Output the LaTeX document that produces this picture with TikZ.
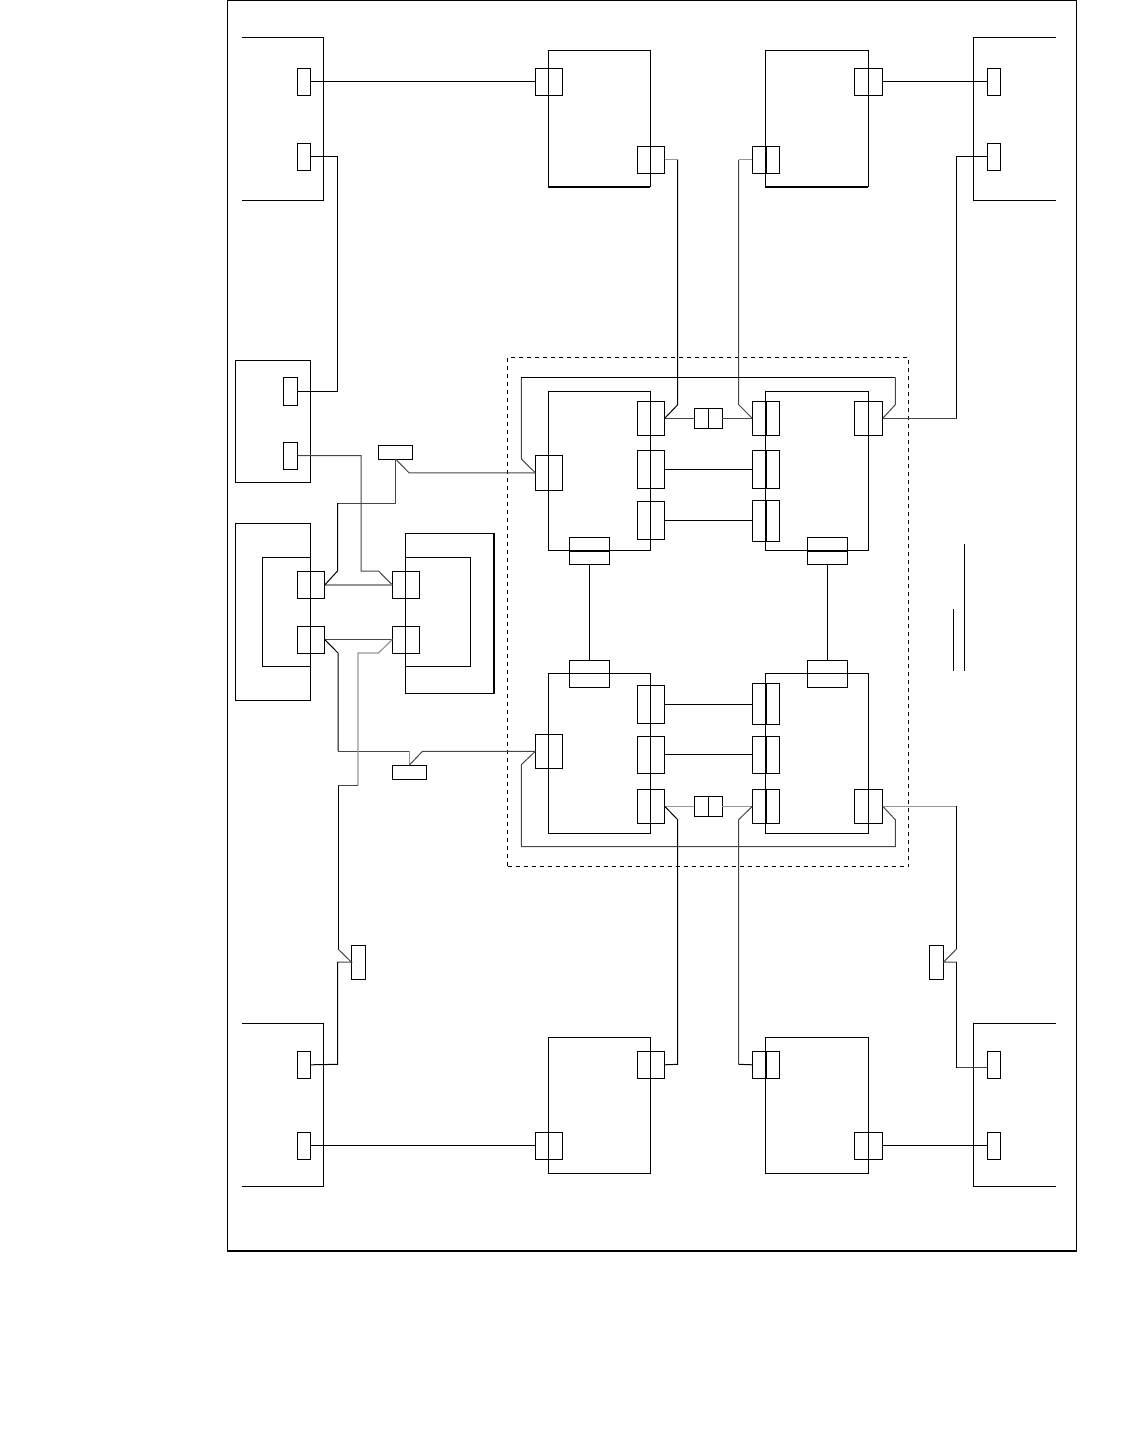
\documentclass[tikz,border=0pt]{standalone}
\usepackage{xcolor}
\usetikzlibrary{positioning}
\definecolor{WireDark}{RGB}{70, 70, 70}
\definecolor{WireLight}{RGB}{150, 150, 150}
\tikzset{
  block/.style={draw, rectangle, line width=1pt, inner sep=0pt, outer sep=0pt},
  portsq/.style={block, minimum width=27.4pt, minimum height=27pt},
  porttall/.style={block, minimum width=27.4pt, minimum height=38pt},
  portmid/.style={block, minimum width=27.4pt, minimum height=34pt},
  portslim/.style={block, minimum width=13.4pt, minimum height=27pt},
  portwide/.style={block, minimum width=40pt, minimum height=27pt},
  tagh/.style={block, minimum width=34.5pt, minimum height=14pt},
  tagv/.style={block, minimum width=14.4pt, minimum height=34pt},
  link/.style={block, minimum width=14pt, minimum height=20pt},
  wire/.style={line width=1pt, black},
  wiredark/.style={line width=1pt, WireDark},
  wirelight/.style={line width=1.2pt, WireLight},
  edgeline/.style={line width=1pt, black},
  heavyline/.style={line width=1.8pt, black}
}
\begin{document}
\begin{tikzpicture}[x=1pt, y=-1pt]
  \useasboundingbox (0,0) rectangle (1134,1442);
  % frame and dashed group
  \node[block, minimum width=849.4pt, minimum height=1250.2pt] (frame) at (652,625.6) {};
  \draw[heavyline] (frame.south west) -- (frame.south east);
  \node[block, dash pattern=on 4.5pt off 3.5pt, minimum width=401.2pt, minimum height=509.5pt] (group) at (708.1,612.2) {};

  % open racks
  \draw[edgeline] (242,37.5) -- (323.3,37.5) -- (323.3,200.3) -- (242,200.3);
  \draw[edgeline] (1055.7,37.5) -- (973.3,37.5) -- (973.3,200.3) -- (1055.7,200.3);
  \draw[edgeline] (242,1023.3) -- (323.3,1023.3) -- (323.3,1186.3) -- (242,1186.3);
  \draw[edgeline] (1055.7,1023.3) -- (973.3,1023.3) -- (973.3,1186.3) -- (1055.7,1186.3);
  \node[portslim] (rackTLa) at (304,81.8) {};
  \node[portslim] (rackTLb) at (304,156.8) {};
  \node[portslim] (rackTRa) at (994,81.8) {};
  \node[portslim] (rackTRb) at (994,156.8) {};
  \node[portslim] (rackBLa) at (304,1064.8) {};
  \node[portslim] (rackBLb) at (304,1145.8) {};
  \node[portslim] (rackBRa) at (994,1064.8) {};
  \node[portslim] (rackBRb) at (994,1145.8) {};

  % top and bottom servers
  \node[block, minimum width=102pt, minimum height=136.4pt] (srvTL) at (599.3,118.5) {};
  \node[block, minimum width=103pt, minimum height=136.4pt] (srvTR) at (816.8,118.5) {};
  \node[block, minimum width=102pt, minimum height=136pt] (srvBL) at (599.3,1105.3) {};
  \node[block, minimum width=103pt, minimum height=136pt] (srvBR) at (816.8,1105.3) {};
  \draw[heavyline] (srvTL.south west) -- (srvTL.south east);
  \draw[heavyline] (srvTR.south west) -- (srvTR.south east);
  \node[portsq] (srvTLa) at (549,81.8) {};
  \node[portsq] (srvTLb) at (651,159.8) {};
  \node[portsq] (srvTRa) at (766,159.8) {};
  \node[block, minimum width=28.4pt, minimum height=27pt] (srvTRb) at (868.5,81.8) {};
  \node[portsq] (srvBLa) at (651,1064.8) {};
  \node[portsq] (srvBLb) at (549,1145.8) {};
  \node[portsq] (srvBRa) at (766,1064.8) {};
  \node[block, minimum width=28.4pt, minimum height=27pt] (srvBRb) at (868.5,1145.8) {};
  \draw[heavyline] (srvTRa.north) -- (srvTRa.south);
  \draw[heavyline] (srvBRa.north) -- (srvBRa.south);

  % left side units
  \node[block, minimum width=75pt, minimum height=122pt] (unitA) at (272.5,421) {};
  \node[block, minimum width=14.4pt, minimum height=28pt] (unitAa) at (290.5,391.2) {};
  \node[block, minimum width=14.4pt, minimum height=27pt] (unitAb) at (290.5,455.5) {};
  \node[block, minimum width=75pt, minimum height=177pt] (unitB) at (272.5,611.5) {};
  \node[block, minimum width=48pt, minimum height=109pt] (unitBin) at (286,611.5) {};
  \node[portsq] (unitBa) at (311,585) {};
  \node[portsq] (unitBb) at (311,639.5) {};
  \node[block, minimum width=89pt, minimum height=160pt] (unitC) at (449.5,613) {};
  \node[block, minimum width=65.5pt, minimum height=109pt] (unitCin) at (437.8,611.5) {};
  \draw[heavyline] (unitC.north east) -- (unitC.south east);
  \node[portsq] (unitCa) at (406,585) {};
  \node[portsq] (unitCb) at (406,639.5) {};
  \node[tagh] (tagA) at (395.5,452) {};
  \node[tagh] (tagB) at (409.5,772) {};
  \node[tagv] (tagC) at (358.5,962) {};
  \node[tagv] (tagD) at (936.5,962) {};

  % centre quad
  \node[block, minimum width=102pt, minimum height=159pt] (coreUL) at (599.3,470.8) {};
  \node[block, minimum width=103pt, minimum height=159pt] (coreUR) at (816.8,470.8) {};
  \node[block, minimum width=102pt, minimum height=160pt] (coreLL) at (599.3,753.3) {};
  \node[block, minimum width=103pt, minimum height=160pt] (coreLR) at (816.8,753.3) {};
  \node[block, minimum width=27.4pt, minimum height=35pt] (ulW) at (549,472.8) {};
  \node[portmid] (ulA) at (651,418.3) {};
  \node[porttall] (ulB) at (651,469.3) {};
  \node[porttall] (ulC) at (651,520.3) {};
  \node[portmid] (urA) at (766,418.3) {};
  \node[porttall] (urB) at (766,469.3) {};
  \node[block, minimum width=27.4pt, minimum height=41pt] (urC) at (766,520.8) {};
  \node[block, minimum width=28.4pt, minimum height=34pt] (urD) at (868.5,418.3) {};
  \node[portwide] (ulS) at (589.3,550.8) {};
  \node[portwide] (urS) at (827.3,550.8) {};
  \draw[heavyline] (ulS.west) -- (ulS.east);
  \draw[heavyline] (urS.west) -- (urS.east);
  \node[portwide] (llN) at (589.3,673.8) {};
  \node[portwide] (lrN) at (827.3,673.8) {};
  \node[block, minimum width=27.4pt, minimum height=34pt] (llW) at (549,751.3) {};
  \node[porttall] (llA) at (651,704.3) {};
  \node[block, minimum width=27.4pt, minimum height=37pt] (llB) at (651,754.8) {};
  \node[portmid] (llC) at (651,806.3) {};
  \node[block, minimum width=27.4pt, minimum height=41pt] (lrA) at (766,703.8) {};
  \node[block, minimum width=27.4pt, minimum height=37pt] (lrB) at (766,754.8) {};
  \node[portmid] (lrC) at (766,806.3) {};
  \node[block, minimum width=28.4pt, minimum height=34pt] (lrD) at (868.5,806.3) {};
  \draw[heavyline] (urA.north) -- (urA.south);
  \draw[heavyline] (urB.north) -- (urB.south);
  \draw[heavyline] (urC.north) -- (urC.south);
  \draw[heavyline] (lrA.north) -- (lrA.south);
  \draw[heavyline] (lrB.north) -- (lrB.south);
  \draw[heavyline] (lrC.north) -- (lrC.south);
  \node[link] (linkUa) at (701.3,418.3) {};
  \node[link] (linkUb) at (715.3,418.3) {};
  \node[link] (linkLa) at (701.3,806.3) {};
  \node[link] (linkLb) at (715.3,806.3) {};

  % straight links
  \draw[wire] (rackTLa.east) -- (srvTLa.west);
  \draw[wire] (srvTRb.east) -- (rackTRa.west);
  \draw[wire] (rackBLb.east) -- (srvBLb.west);
  \draw[wire] (srvBRb.east) -- (rackBRb.west);
  \draw[wire] (ulS.south) -- (llN.north);
  \draw[wire] (urS.south) -- (lrN.north);
  \draw[wire] (ulB.east) -- (urB.west);
  \draw[wire] (ulC.east) -- (ulC.east -| urC.west);
  \draw[wire] (llA.east) -- (llA.east -| lrA.west);
  \draw[wire] (llB.east) -- (lrB.west);
  \draw[wiredark] (ulA.east) -- (linkUa.west);
  \draw[wiredark] (linkUb.east) -- (urA.west);
  \draw[wirelight] (llC.east) -- (linkLa.west);
  \draw[wirelight] (linkLb.east) -- (lrC.west);

  % routed links, top half
  \draw[wire] (rackTLb.east) -- (337.3,156.8) -- (337.3,391.2) -- (unitAa.east);
  \draw[wirelight] (srvTLb.east) -- (677.7,159.8);
  \draw[wire] (677.7,159.8) -- (677.7,404.7) -- (ulA.east);
  \draw[wirelight] (srvTRa.west) -- (738.7,159.8);
  \draw[wiredark] (738.7,159.8) -- (738.7,404.7) -- (urA.west);
  \draw[wire] (rackTRb.west) -- (956.7,156.8) -- (956.7,418.3);
  \draw[wiredark] (956.7,418.3) -- (urD.east);
  \draw[wiredark] (unitAb.east) -- (361,455.5) -- (361,571) -- (378.5,571) -- (unitCa.west);
  \draw[wirelight] (unitBa.east) -- (unitCa.west);
  \draw[wiredark] (unitBb.east) -- (unitCb.west);
  \draw[wiredark] (tagA.south) -- (395.5,503) -- (337.5,503);
  \draw[wire] (337.5,503) -- (337.5,571) -- (unitBa.east);
  \draw[wiredark] (tagA.south) -- (409,472.8) -- (ulW.west);
  \draw[wiredark] (ulW.west) -- (521.3,459) -- (521.3,377.3);
  \draw[wire] (521.3,377.3) -- (895.3,377.3);
  \draw[wiredark] (895.3,377.3) -- (895.3,404.7) -- (urD.east);

  % routed links, bottom half
  \draw[wire] (unitBb.east) -- (338,653) -- (338,751.3);
  \draw[wiredark] (338,751.3) -- (409.5,751.3);
  \draw[wirelight] (409.5,751.3) -- (tagB.north);
  \draw[wiredark] (tagB.north) -- (422.5,751.3) -- (llW.west);
  \draw[wirelight] (unitCb.west) -- (378.5,653) -- (358,653) -- (358,785.5);
  \draw[wiredark] (358,785.5) -- (338,785.5);
  \draw[wire] (338,785.5) -- (338,949);
  \draw[wiredark] (338,949) -- (tagC.west) -- (337.5,962);
  \draw[wire] (337.5,962) -- (337.5,1064.3) -- (rackBLa.east);
  \draw[wiredark] (llW.west) -- (521.3,764.7) -- (521.3,846.7) -- (895.3,846.7) -- (895.3,819.7) -- (lrD.east);
  \draw[wire] (llC.east) -- (677.7,819.7) -- (677.7,1064.3) -- (srvBLa.east);
  \draw[wiredark] (lrC.west) -- (738.7,819.7) -- (738.7,1064.3);
  \draw[wire] (738.7,1064.3) -- (srvBRa.west);
  \draw[wirelight] (lrD.east) -- (956.5,806.3);
  \draw[wire] (956.5,806.3) -- (956.5,949);
  \draw[wiredark] (956.5,949) -- (tagD.east) -- (956.5,962);
  \draw[wire] (956.5,962) -- (956.5,1067.7);
  \draw[wiredark] (956.5,1067.7) -- (rackBRa.west |- 956.5,1067.7);

  % loose rules
  \draw[line width=1.3pt] (964.3,544) -- (964.3,671);
  \draw[line width=1.3pt] (953.3,609) -- (953.3,671);
\end{tikzpicture}
\end{document}
